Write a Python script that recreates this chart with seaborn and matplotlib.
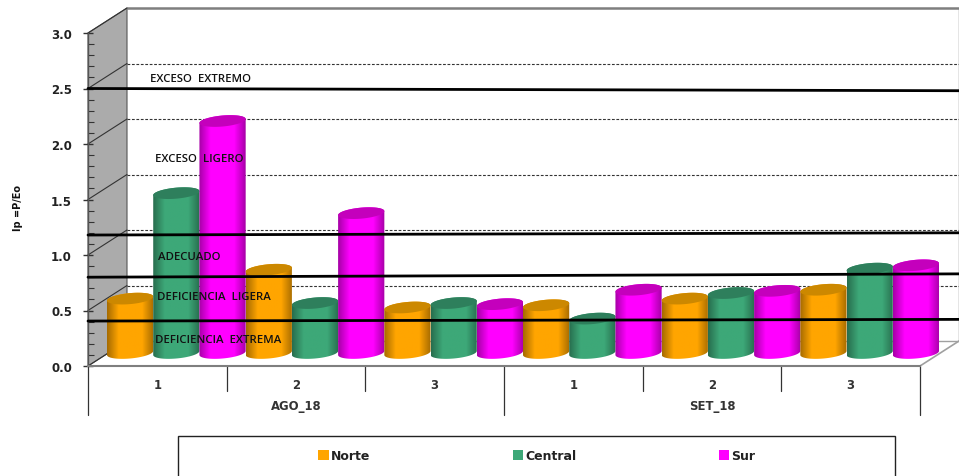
import numpy as np
import pandas as pd
import seaborn as sns
import matplotlib
matplotlib.use("Agg")
import matplotlib.pyplot as plt
from matplotlib.patches import Patch, Polygon, PathPatch, Rectangle
from matplotlib.path import Path
from matplotlib.transforms import ScaledTranslation, blended_transform_factory
from matplotlib.ticker import MultipleLocator

months = ["AGO_18", "SET_18"]
weeks = ["1", "2", "3", "1", "2", "3"]
series = ["Norte", "Central", "Sur"]
norte = [0.49, 0.75, 0.41, 0.43, 0.49, 0.57]
central = [1.44, 0.45, 0.45, 0.31, 0.54, 0.76]
sur = [2.09, 1.26, 0.44, 0.57, 0.56, 0.79]

# limit lines, value at the left end and at the right end
limits_left = [2.50, 1.18, 0.80, 0.405]
limits_right = [2.48, 1.20, 0.83, 0.42]

zone_names = ["EXCESO  EXTREMO", "EXCESO  LIGERO", "ADECUADO", "DEFICIENCIA  LIGERA", "DEFICIENCIA  EXTREMA"]
zone_x = [-0.053, -0.017, 0.005, -0.002, -0.017]
zone_y = [2.586, 1.865, 0.99, 0.63, 0.243]

colors = ["#FFA500", "#3DA878", "#FF00FF"]
top_colors = ["#CC8800", "#2E7F5C", "#C400BC"]

periods = [f"{months[i // 3]} {weeks[i]}" for i in range(6)]
df = pd.DataFrame({
    "periodo": periods * 3,
    "zona": np.repeat(series, 6),
    "ip": norte + central + sur,
})

sns.set_style("white")
plt.rcParams["font.family"] = ["DejaVu Sans"]

W, H = 959, 477
fig = plt.figure(figsize=(W / 100, H / 100), dpi=100)
ax = fig.add_axes([88 / W, (H - 367) / H, 832 / W, 333 / H])
ax.patch.set_visible(False)

sns.barplot(data=df, x="periodo", y="ip", hue="zona", hue_order=series, order=periods,
            palette=colors, width=1, gap=0, saturation=1, legend=False, ax=ax, zorder=2)
ax.set_xlim(-0.5, 5.5)
ax.set_ylim(0, 3)
ax.autoscale(False)

# depth of the fake 3d box
back = ax.transData + ScaledTranslation(39 / 100, 25 / 100, fig.dpi_scale_trans)
mid = ax.transData + ScaledTranslation(19 / 100, 13 / 100, fig.dpi_scale_trans)
GREY = "#7F7F7F"

# walls and floor
xl, xr = ax.get_xlim()
side = np.vstack([ax.transData.transform([(xl, 3), (xl, 0)]), back.transform([(xl, 0), (xl, 3)])])
ax.add_patch(Polygon(side, closed=True, transform=None, facecolor="#ABABAB", edgecolor="#555555", lw=0.8, zorder=0.2, clip_on=False))
ax.plot([xl, xr + 1], [3, 3], transform=back, color=GREY, lw=1.8, zorder=0.3, clip_on=False)
ax.plot([xr, xr], [0, 3], transform=back, color=GREY, lw=1, zorder=0.3, clip_on=False)
ax.plot([xl, xr], [0, 0], transform=back, color="#A0A0A0", lw=1, zorder=0.3, clip_on=False)
floor_edge = np.vstack([ax.transData.transform([(xr, 0)]), back.transform([(xr, 0)])])
ax.plot(floor_edge[:, 0], floor_edge[:, 1], transform=None, color="#A0A0A0", lw=1.2, zorder=0.3, clip_on=False)

for g in np.arange(0.5, 3, 0.5):
    ax.plot([xl, xr], [g, g], transform=back, color="#333333", lw=0.8, ls=(0, (2.5, 1.5)), zorder=0.5, clip_on=False)
for g in np.arange(0, 3.5, 0.5):
    p = np.vstack([ax.transData.transform([(xl, g)]), back.transform([(xl, g)])])
    ax.plot(p[:, 0], p[:, 1], transform=None, color="#333333", lw=0.8, zorder=0.6, clip_on=False)

# seaborn's rectangles give the geometry, cylinders are painted on top of them
bars = sorted([b for b in ax.patches if isinstance(b, Rectangle) and b.get_width() > 0 and b.get_height() > 0],
              key=lambda b: b.get_x())
shade = np.concatenate([np.linspace(0.66, 1, 12), np.ones(22), np.linspace(1, 0.66, 12)])
for i, bar in enumerate(bars):
    bar.set_visible(False)
    c = i % 3
    z = 2 + i * 0.01
    x0, w, h = bar.get_x(), bar.get_width(), bar.get_height()
    (cx, cy0), (_, cy1) = mid.transform([(x0 + w / 2, 0), (x0 + w / 2, h)])
    a = w * ax.transData.get_matrix()[0, 0] / 2
    b, tilt = 5.5, 2
    t = np.linspace(0, np.pi, 40)
    top_edge = np.column_stack([cx + a * np.cos(t), cy1 + b * np.sin(t) + tilt * np.cos(t)])
    t2 = np.linspace(np.pi, 2 * np.pi, 40)
    low_edge = np.column_stack([cx + a * np.cos(t2), cy0 + b * np.sin(t2) + tilt * np.cos(t2)])
    body = np.vstack([top_edge, low_edge, top_edge[:1]])
    clip = PathPatch(Path(body), transform=None, facecolor="none", edgecolor="none", clip_on=False)
    ax.add_patch(clip)
    rgb = np.array(matplotlib.colors.to_rgb(colors[c]))
    grad = (shade[:, None] * rgb)[None, :, :]
    im = ax.imshow(grad, aspect="auto", interpolation="bilinear", zorder=z, extent=(cx - a, cx + a, cy0 - 8, cy1 + 8))
    im.set_transform(matplotlib.transforms.IdentityTransform())
    im.set_clip_box(fig.bbox)
    im.set_clip_path(clip)
    t3 = np.linspace(0, 2 * np.pi, 80)
    cap = np.column_stack([cx + a * np.cos(t3), cy1 + b * np.sin(t3) + tilt * np.cos(t3)])
    ax.add_patch(Polygon(cap, closed=True, transform=None, facecolor=top_colors[c], edgecolor="none", zorder=z + 0.001, clip_on=False))

ax.set_xlim(-0.5, 5.5)
ax.set_ylim(0, 3)

# thick limit lines run over the whole box
x_end = xr + 39 / (832 / 6)
for y0, y1 in zip(limits_left, limits_right):
    ax.plot([xl, x_end], [y0, y1], color="black", lw=2, zorder=5, clip_on=False)

for name, zx, zy in zip(zone_names, zone_x, zone_y):
    ax.text(zx, zy, name, fontsize=8.2, family="Open Sans", fontweight="semibold", color="#111111", va="center", ha="left", zorder=6)

# axes
sns.despine(ax=ax, top=True, right=True, left=False, bottom=False)
ax.spines["left"].set_color("#555555")
ax.spines["left"].set_linewidth(1)
ax.spines["bottom"].set_color(GREY)
ax.spines["bottom"].set_linewidth(1.5)
ax.yaxis.set_major_locator(MultipleLocator(0.5))
ax.yaxis.set_minor_locator(MultipleLocator(0.1))
ax.tick_params(axis="y", which="major", direction="inout", length=7, width=1, color="#333333", left=True,
               pad=8, labelsize=8.5, labelcolor="#222222")
ax.tick_params(axis="y", which="minor", direction="in", length=4, width=0.8, color="#333333", left=True)
ax.set_yticks(np.arange(0, 3.5, 0.5))
ax.set_yticklabels([f"{v:.1f}" for v in np.arange(0, 3.5, 0.5)], fontweight="bold")

ax.set_xticks(range(6))
ax.set_xticklabels(weeks, fontsize=8.4, fontweight="bold", color="#333333")
ax.tick_params(axis="x", length=0, pad=8.5, bottom=False)
ax.set_xlabel("")
ax.set_ylabel("Ip =P/Eo", fontsize=7, fontweight="bold", color="#111111")
ax.yaxis.set_label_coords(-65 / 832, (367 - 208) / 333)

# two level category axis
tr = blended_transform_factory(ax.transData, ax.transAxes)
for i in range(7):
    long_tick = i in (0, 3, 6)
    low = -49 / 333 if long_tick else -25 / 333
    ax.plot([i - 0.5, i - 0.5], [0, low], transform=tr, color="#333333", lw=0.9, clip_on=False)
for j, m in enumerate(months):
    ax.text(1 + j * 3, -40 / 333, m, transform=tr, fontsize=8.4, fontweight="bold", color="#333333", ha="center", va="center")

# legend box is cut by the bottom of the picture
fig.add_artist(Rectangle((178 / W, -0.02), (895 - 178) / W, (H - 437) / H + 0.02, transform=fig.transFigure,
                         facecolor="white", edgecolor="#222222", lw=1))
handles = [Patch(facecolor=col, edgecolor="none", label=s) for col, s in zip(colors, series)]
leg = fig.legend(handles=handles, ncol=3, frameon=False, loc="center left", bbox_to_anchor=(307 / W, (H - 456.5) / H),
                 columnspacing=11.4, handlelength=0.85, handleheight=0.85, handletextpad=0.15,
                 prop={"weight": "bold", "size": 9})
for txt in leg.get_texts():
    txt.set_color("#222222")

fig.savefig("out.png", dpi=100, facecolor="white")
